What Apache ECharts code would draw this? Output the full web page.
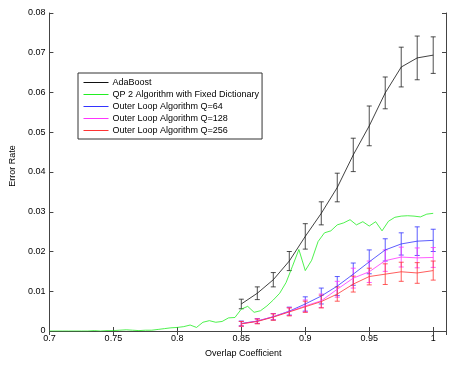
<!DOCTYPE html>
<html>
<head>
<meta charset="utf-8">
<script src="https://cdn.jsdelivr.net/npm/echarts@6/dist/echarts.min.js"></script>
<style>
  html, body { margin: 0; padding: 0; background: #fff; }
  #chart { width: 455px; height: 366px; }
</style>
</head>
<body>
<div id="chart"></div>
<script>
// overlap coefficients where the error-bar curves were sampled
const overlapX = [0.85, 0.8625, 0.875, 0.8875, 0.9, 0.9125, 0.925, 0.9375, 0.95, 0.9625, 0.975, 0.9875, 1.0]

const adaboost = [0.0068, 0.0095, 0.0129, 0.0176, 0.0238, 0.0296, 0.0361, 0.0443, 0.0516, 0.0599, 0.0664, 0.0687, 0.0694]
const adaboostErr = [0.0012, 0.0016, 0.0018, 0.0024, 0.0032, 0.0029, 0.0036, 0.0042, 0.005, 0.004, 0.005, 0.0055, 0.0046]

const q64 = [0.0019, 0.0025, 0.0036, 0.005, 0.0068, 0.0088, 0.0113, 0.0143, 0.0174, 0.0204, 0.0219, 0.0226, 0.0228]
const q64Err = [0.0006, 0.0006, 0.0008, 0.001, 0.0018, 0.002, 0.0024, 0.0028, 0.003, 0.0028, 0.0028, 0.0036, 0.0028]

const q128 = [0.0018, 0.0025, 0.0036, 0.0049, 0.0063, 0.0076, 0.0105, 0.0133, 0.0149, 0.0177, 0.0186, 0.0184, 0.0185]
const q128Err = [0.0006, 0.0006, 0.0008, 0.001, 0.0015, 0.0017, 0.002, 0.0025, 0.0027, 0.0027, 0.0025, 0.0025, 0.0025]

const q256 = [0.0018, 0.0024, 0.0035, 0.0048, 0.0061, 0.0074, 0.0093, 0.0118, 0.0137, 0.0143, 0.0149, 0.0146, 0.0152]
const q256Err = [0.0006, 0.0006, 0.0008, 0.001, 0.0014, 0.0016, 0.0018, 0.002, 0.0021, 0.0026, 0.0024, 0.0026, 0.0024]

// QP 2 curve, sampled every 0.005
const qpX = [0.7, 0.705, 0.71, 0.715, 0.72, 0.725, 0.73, 0.735, 0.74, 0.745, 0.75, 0.755, 0.76, 0.765, 0.77, 0.775,
  0.78, 0.785, 0.79, 0.795, 0.8, 0.805, 0.81, 0.815, 0.82, 0.825, 0.83, 0.835, 0.84, 0.845, 0.85, 0.855, 0.86,
  0.865, 0.87, 0.875, 0.88, 0.885, 0.89, 0.895, 0.9, 0.905, 0.91, 0.915, 0.92, 0.925, 0.93, 0.935, 0.94, 0.945,
  0.95, 0.955, 0.96, 0.965, 0.97, 0.975, 0.98, 0.985, 0.99, 0.995, 1.0]
const qp2 = [0, 0, 0, 0, 0, 0, 0, 0.0001, 0, 0.0001, 0.0001, 0.0002, 0.0003, 0.0002, 0.0001, 0.0002,
  0.0002, 0.0004, 0.0006, 0.0008, 0.0009, 0.0011, 0.0015, 0.0009, 0.0022, 0.0026, 0.0022, 0.0024, 0.0033, 0.0034, 0.0055, 0.0062, 0.0047,
  0.0051, 0.0063, 0.0078, 0.0095, 0.0122, 0.0163, 0.0205, 0.0152, 0.0178, 0.0225, 0.0247, 0.0252, 0.0267, 0.0272, 0.028, 0.0267, 0.0275,
  0.0264, 0.0275, 0.0252, 0.0276, 0.0286, 0.0289, 0.029, 0.0289, 0.0287, 0.0294, 0.0296]

const xTicks = { min: 0.7, max: 1.01, interval: 0.05 }
const yTicks = { min: 0, max: 0.08, interval: 0.01 }

const font = 'Liberation Sans, Arial, Helvetica, sans-serif'
const axisColor = '#444'

function pairs(xs, ys) {
  return xs.map((x, i) => [x, ys[i]])
}

function bars(ys, errs) {
  return overlapX.map((x, i) => [x, ys[i] - errs[i], ys[i] + errs[i]])
}

function renderErr(params, api) {
  const x = api.value(0)
  const top = api.coord([x, api.value(2)])
  const bot = api.coord([x, api.value(1)])
  const w = 2.5
  const style = { stroke: api.visual('color'), lineWidth: 0.8 }
  return {
    type: 'group',
    children: [
      { type: 'line', shape: { x1: top[0], y1: top[1], x2: bot[0], y2: bot[1] }, style },
      { type: 'line', shape: { x1: top[0] - w, y1: top[1], x2: top[0] + w, y2: top[1] }, style },
      { type: 'line', shape: { x1: bot[0] - w, y1: bot[1], x2: bot[0] + w, y2: bot[1] }, style }
    ]
  }
}

function lineSeries(name, color, data) {
  return {
    name, type: 'line', data, symbol: 'none', showSymbol: false,
    lineStyle: { color, width: 0.8 }, itemStyle: { color },
    z: 3
  }
}

function errSeries(name, color, data) {
  return {
    name, type: 'custom', data, renderItem: renderErr,
    itemStyle: { color }, z: 2
  }
}

const fmt = v => String(+v.toFixed(3))
const legendNames = ['AdaBoost', 'QP 2 Algorithm with Fixed Dictionary', 'Outer Loop Algorithm Q=64',
  'Outer Loop Algorithm Q=128', 'Outer Loop Algorithm Q=256']

const chart = echarts.init(document.getElementById('chart'), null, { renderer: 'canvas' })
chart.setOption({
  animation: false,
  backgroundColor: '#fff',
  textStyle: { fontFamily: font },
  grid: { left: 43, right: 9, top: 13, bottom: 35 },
  legend: {
    data: legendNames,
    orient: 'vertical',
    left: 78, top: 73,
    padding: [5, 3, 4, 5],
    itemWidth: 25, itemHeight: 10, itemGap: 3,
    itemStyle: { opacity: 0 },
    lineStyle: { width: 1 },
    borderColor: '#333', borderWidth: 1,
    backgroundColor: '#fff',
    textStyle: { fontSize: 9, color: '#000', fontFamily: font, padding: [0, 0, 0, -1] }
  },
  xAxis: [{
    type: 'value', ...xTicks,
    name: 'Overlap Coefficient', nameLocation: 'middle', nameGap: 18,
    nameTextStyle: { fontSize: 9, color: '#000', padding: [0, 9, 0, 0] },
    axisLine: { lineStyle: { color: axisColor } },
    axisTick: { inside: true, length: 4, lineStyle: { color: axisColor } },
    axisLabel: { fontSize: 9, color: '#000', margin: 3, showMaxLabel: false, formatter: fmt },
    splitLine: { show: false }
  }, {
    type: 'value', ...xTicks, position: 'top',
    axisLine: { lineStyle: { color: axisColor } },
    axisTick: { inside: true, length: 4, lineStyle: { color: axisColor } },
    axisLabel: { show: false },
    splitLine: { show: false }
  }],
  yAxis: [{
    type: 'value', ...yTicks,
    name: 'Error Rate', nameLocation: 'middle', nameGap: 26,
    nameTextStyle: { fontSize: 9, color: '#000', padding: [0, 0, 0, 12] },
    axisLine: { show: true, lineStyle: { color: axisColor } },
    axisTick: { show: true, inside: true, length: 4, lineStyle: { color: axisColor } },
    axisLabel: { fontSize: 9, color: '#000', margin: 4, formatter: fmt },
    splitLine: { show: false }
  }, {
    type: 'value', ...yTicks, position: 'right',
    axisLine: { show: true, lineStyle: { color: axisColor } },
    axisTick: { show: true, inside: true, length: 4, lineStyle: { color: axisColor } },
    axisLabel: { show: false },
    splitLine: { show: false }
  }],
  series: [
    lineSeries('AdaBoost', '#111', pairs(overlapX, adaboost)),
    lineSeries('QP 2 Algorithm with Fixed Dictionary', '#22ee22', pairs(qpX, qp2)),
    lineSeries('Outer Loop Algorithm Q=64', '#3333ff', pairs(overlapX, q64)),
    lineSeries('Outer Loop Algorithm Q=128', '#ff33ff', pairs(overlapX, q128)),
    lineSeries('Outer Loop Algorithm Q=256', '#ff3333', pairs(overlapX, q256)),
    errSeries('adaboost-err', '#222', bars(adaboost, adaboostErr)),
    errSeries('q64-err', '#3333ff', bars(q64, q64Err)),
    errSeries('q128-err', '#ff33ff', bars(q128, q128Err)),
    errSeries('q256-err', '#ff3333', bars(q256, q256Err))
  ]
})
</script>
</body>
</html>
